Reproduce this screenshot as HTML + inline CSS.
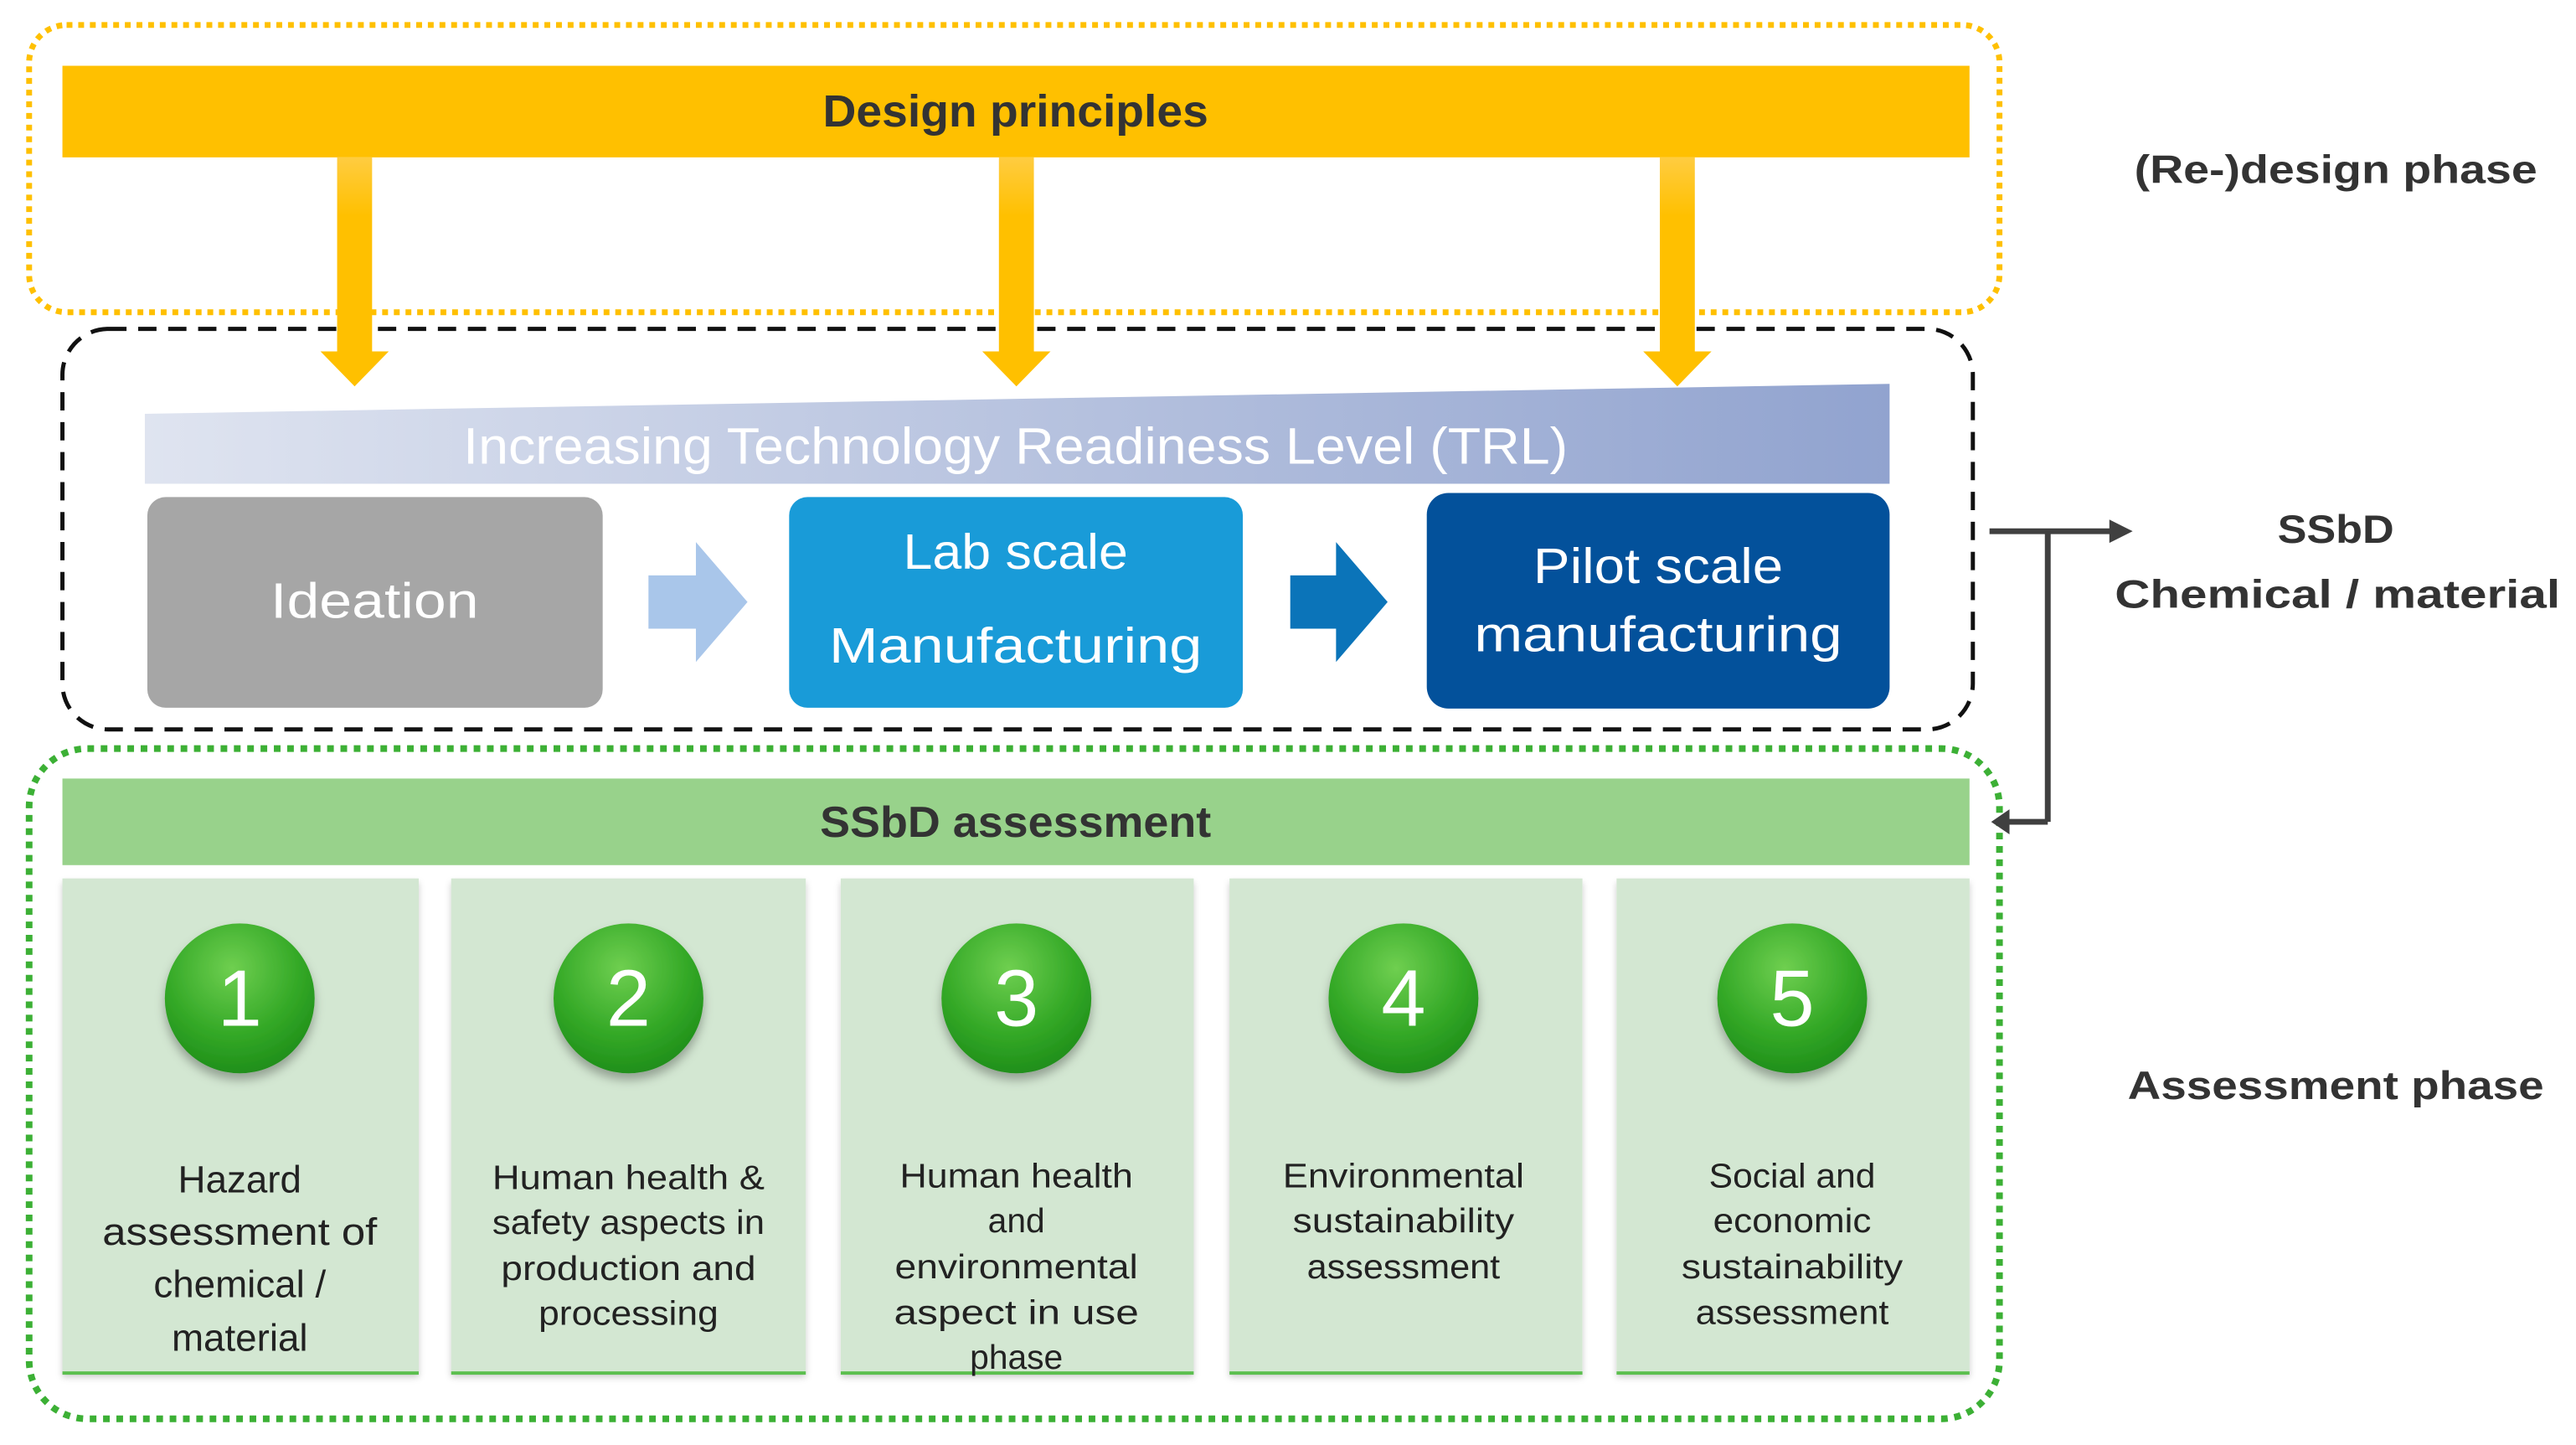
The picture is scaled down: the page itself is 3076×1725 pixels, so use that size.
<!DOCTYPE html>
<html><head><meta charset="utf-8"><style>html,body{margin:0;padding:0;background:#fff}svg{display:block}</style></head>
<body>
<svg width="3076" height="1725" viewBox="0 0 3076 1725" xmlns="http://www.w3.org/2000/svg" font-family="Liberation Sans, sans-serif">
<defs>
<linearGradient id="trl" x1="0" x2="1" y1="0" y2="0"><stop offset="0" stop-color="#dfe4f0"/><stop offset="1" stop-color="#91a3cf"/></linearGradient>
<linearGradient id="shaft" x1="0" x2="0" y1="0" y2="1"><stop offset="0" stop-color="#ffcc40"/><stop offset="0.3" stop-color="#ffc000"/><stop offset="1" stop-color="#ffc000"/></linearGradient>
<radialGradient id="ball" cx="0.45" cy="0.3" r="0.75"><stop offset="0" stop-color="#6fcf50"/><stop offset="0.6" stop-color="#33a826"/><stop offset="1" stop-color="#1c8a18"/></radialGradient>
<filter id="sh" x="-20%" y="-20%" width="140%" height="150%"><feDropShadow dx="0" dy="8" stdDeviation="6" flood-color="#000" flood-opacity="0.3"/></filter>
<filter id="sh2" x="-5%" y="-5%" width="110%" height="110%"><feDropShadow dx="0" dy="5" stdDeviation="4" flood-color="#000" flood-opacity="0.2"/></filter>
</defs>
<g transform="scale(0.994)">
<rect x="35" y="30" width="2367" height="345" rx="45" fill="none" stroke="#ffc000" stroke-width="7" stroke-dasharray="7 7"/>
<rect x="75" y="395" width="2295" height="481" rx="55" fill="none" stroke="#111" stroke-width="5" stroke-dasharray="22 14"/>
<rect x="35" y="899" width="2367" height="805" rx="70" fill="none" stroke="#3cb035" stroke-width="8" stroke-dasharray="8 8"/>

<rect x="75" y="79" width="2291" height="110" fill="#ffc000"/>
<text x="1220" y="152" text-anchor="middle" font-size="54" font-weight="bold" fill="#333" textLength="463" lengthAdjust="spacingAndGlyphs">Design principles</text>

<g fill="url(#shaft)">
<rect x="405" y="189" width="42" height="235"/><rect x="1200" y="189" width="42" height="235"/><rect x="1994" y="189" width="42" height="235"/>
</g>
<g fill="#ffc000">
<polygon points="385,422 467,422 426,464"/><polygon points="1180,422 1262,422 1221,464"/><polygon points="1974,422 2056,422 2015,464"/>
</g>

<polygon points="174,497 2270,461 2270,581 174,581" fill="url(#trl)"/>
<text x="1220" y="557" text-anchor="middle" font-size="62" fill="#fff" textLength="1327" lengthAdjust="spacingAndGlyphs">Increasing Technology Readiness Level (TRL)</text>

<rect x="177" y="597" width="547" height="253" rx="22" fill="#a6a6a6"/>
<text x="450" y="742" text-anchor="middle" font-size="60" fill="#fff" textLength="250" lengthAdjust="spacingAndGlyphs">Ideation</text>
<rect x="948" y="597" width="545" height="253" rx="22" fill="#199bd8"/>
<text x="1220" y="683" text-anchor="middle" font-size="60" fill="#fff" textLength="270" lengthAdjust="spacingAndGlyphs">Lab scale</text>
<text x="1220" y="796" text-anchor="middle" font-size="60" fill="#fff" textLength="448" lengthAdjust="spacingAndGlyphs">Manufacturing</text>
<rect x="1714" y="592" width="556" height="259" rx="26" fill="#03519b"/>
<text x="1992" y="700" text-anchor="middle" font-size="60" fill="#fff" textLength="300" lengthAdjust="spacingAndGlyphs">Pilot scale</text>
<text x="1992" y="782" text-anchor="middle" font-size="60" fill="#fff" textLength="442" lengthAdjust="spacingAndGlyphs">manufacturing</text>

<polygon points="779,691 836,691 836,651 898,723 836,795 836,755 779,755" fill="#a9c6ea"/>
<polygon points="1550,691 1605,691 1605,651 1667,723 1605,795 1605,755 1550,755" fill="#0b74b9"/>

<g stroke="#404040" stroke-width="7" fill="none">
<line x1="2390" y1="638" x2="2537" y2="638"/>
<line x1="2460" y1="638" x2="2460" y2="987"/>
<line x1="2460" y1="987" x2="2412" y2="987"/>
</g>
<polygon points="2534,624 2562,638 2534,652" fill="#404040"/>
<polygon points="2414,972 2392,987 2414,1002" fill="#404040"/>

<g font-weight="bold" fill="#333" font-size="48" text-anchor="middle">
<text x="2806" y="220" textLength="484" lengthAdjust="spacingAndGlyphs">(Re-)design phase</text>
<text x="2806" y="652" textLength="140" lengthAdjust="spacingAndGlyphs">SSbD</text>
<text x="2808" y="730" textLength="535" lengthAdjust="spacingAndGlyphs">Chemical / material</text>
<text x="2806" y="1320" textLength="500" lengthAdjust="spacingAndGlyphs">Assessment phase</text>
</g>

<rect x="75" y="935" width="2291" height="104" fill="#98d28b"/>
<text x="1220" y="1005" text-anchor="middle" font-size="52" font-weight="bold" fill="#333" textLength="470" lengthAdjust="spacingAndGlyphs">SSbD assessment</text>

<g filter="url(#sh2)" fill="#d3e7d2">
<rect x="75" y="1055" width="428" height="594"/><rect x="542" y="1055" width="426" height="594"/><rect x="1010" y="1055" width="424" height="594"/><rect x="1477" y="1055" width="424" height="594"/><rect x="1942" y="1055" width="424" height="594"/>
</g>
<g fill="#5cbf4f">
<rect x="75" y="1647" width="428" height="4"/><rect x="542" y="1647" width="426" height="4"/><rect x="1010" y="1647" width="424" height="4"/><rect x="1477" y="1647" width="424" height="4"/><rect x="1942" y="1647" width="424" height="4"/>
</g>

<g filter="url(#sh)" fill="url(#ball)">
<circle cx="288" cy="1199" r="90"/><circle cx="755" cy="1199" r="90"/><circle cx="1221" cy="1199" r="90"/><circle cx="1686" cy="1199" r="90"/><circle cx="2153" cy="1199" r="90"/>
</g>
<g fill="#fff" font-size="96" text-anchor="middle">
<text x="288" y="1232">1</text><text x="755" y="1232">2</text><text x="1221" y="1232">3</text><text x="1686" y="1232">4</text><text x="2153" y="1232">5</text>
</g>

<g fill="#222" text-anchor="middle" font-size="46">
<text x="288" y="1432">Hazard</text>
<text x="288" y="1495" textLength="330" lengthAdjust="spacingAndGlyphs">assessment  of</text>
<text x="288" y="1558">chemical /</text>
<text x="288" y="1622">material</text>
</g>
<g fill="#222" text-anchor="middle" font-size="41">
<text x="755" y="1428" textLength="327" lengthAdjust="spacingAndGlyphs">Human health &amp;</text>
<text x="755" y="1482" textLength="327" lengthAdjust="spacingAndGlyphs">safety aspects in</text>
<text x="755" y="1537" textLength="306" lengthAdjust="spacingAndGlyphs">production and</text>
<text x="755" y="1591" textLength="216" lengthAdjust="spacingAndGlyphs">processing</text>

<text x="1221" y="1426" textLength="280" lengthAdjust="spacingAndGlyphs">Human health</text>
<text x="1221" y="1480">and</text>
<text x="1221" y="1535" textLength="292" lengthAdjust="spacingAndGlyphs">environmental</text>
<text x="1221" y="1590" textLength="294" lengthAdjust="spacingAndGlyphs">aspect in use</text>
<text x="1221" y="1644">phase</text>

<text x="1686" y="1426" textLength="290" lengthAdjust="spacingAndGlyphs">Environmental</text>
<text x="1686" y="1480" textLength="266" lengthAdjust="spacingAndGlyphs">sustainability</text>
<text x="1686" y="1535" textLength="232" lengthAdjust="spacingAndGlyphs">assessment</text>

<text x="2153" y="1426" textLength="200" lengthAdjust="spacingAndGlyphs">Social and</text>
<text x="2153" y="1480" textLength="190" lengthAdjust="spacingAndGlyphs">economic</text>
<text x="2153" y="1535" textLength="266" lengthAdjust="spacingAndGlyphs">sustainability</text>
<text x="2153" y="1590" textLength="232" lengthAdjust="spacingAndGlyphs">assessment</text>
</g>
</g>
</svg>
</body></html>
